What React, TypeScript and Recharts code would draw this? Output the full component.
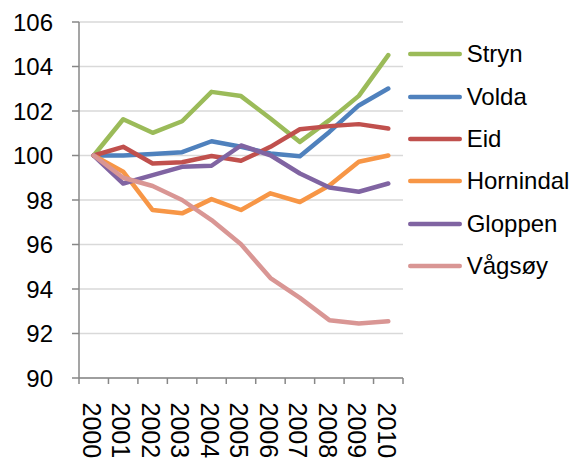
import React from 'react';
import { LineChart, Line, XAxis, YAxis, CartesianGrid } from 'recharts';

const years = ['2000', '2001', '2002', '2003', '2004', '2005', '2006', '2007', '2008', '2009', '2010'];
const stryn = [100, 101.63, 101.02, 101.54, 102.86, 102.67, 101.66, 100.61, 101.59, 102.68, 104.51];
const volda = [100, 100, 100.07, 100.15, 100.64, 100.39, 100.09, 99.97, 101.06, 102.25, 103.01];
const eid = [100, 100.39, 99.64, 99.7, 99.98, 99.76, 100.39, 101.18, 101.32, 101.41, 101.21];
const hornindal = [100, 99.27, 97.55, 97.4, 98.04, 97.55, 98.3, 97.91, 98.65, 99.72, 100.0];
const gloppen = [100, 98.74, 99.12, 99.49, 99.54, 100.45, 100.01, 99.19, 98.56, 98.37, 98.74];
const vagsoy = [100, 99.0, 98.63, 98.0, 97.1, 96.01, 94.49, 93.6, 92.6, 92.45, 92.55];

const yTicks = [90, 92, 94, 96, 98, 100, 102, 104, 106];

const series = [
  { key: 'Stryn', values: stryn, color: '#9BBB59' },
  { key: 'Volda', values: volda, color: '#4F81BD' },
  { key: 'Eid', values: eid, color: '#C0504D' },
  { key: 'Hornindal', values: hornindal, color: '#F79646' },
  { key: 'Gloppen', values: gloppen, color: '#8064A2' },
  { key: 'Vågsøy', values: vagsoy, color: '#D99694' },
];

const data = years.map((y, i) => {
  const row: Record<string, number | string> = { idx: i, year: y };
  series.forEach((s) => {
    row[s.key] = s.values[i];
  });
  return row;
});

const xTicks: number[] = [];
for (let i = 0; i <= years.length * 2; i++) xTicks.push(-0.5 + i * 0.5);

const FONT = '"Liberation Sans", Arial, sans-serif';
const AXIS = '#878787';

const XTick = (props: any) => {
  const { x, y, payload } = props;
  const v = payload.value as number;
  if (Number.isInteger(v)) {
    return (
      <g transform={`translate(${x},${y + 24.5})`}>
        <text
          transform="rotate(90)"
          x={0}
          y={2}
          dy="0.35em"
          textAnchor="start"
          fontSize={25}
          fill="#000"
          fontFamily={FONT}
        >
          {years[v]}
        </text>
      </g>
    );
  }
  return <line x1={x} x2={x} y1={y} y2={y + 6} stroke={AXIS} strokeWidth={1.5} />;
};

export default function App() {
  return (
    <div style={{ position: 'absolute', left: 0, top: 0, width: 571, height: 460, background: '#fff', fontFamily: FONT }}>
      <LineChart width={571} height={460} data={data} margin={{ top: 22, right: 168, bottom: 0, left: 0 }}>
        <CartesianGrid vertical={false} stroke="#d9d9d9" strokeWidth={1.5} />
        <XAxis
          dataKey="idx"
          type="number"
          domain={[-0.5, 10.5]}
          ticks={xTicks}
          interval={0}
          tickLine={false}
          tickSize={0}
          tickMargin={0}
          height={82}
          axisLine={{ stroke: AXIS, strokeWidth: 1.5 }}
          tick={<XTick />}
          allowDecimals
        />
        <YAxis
          type="number"
          domain={[90, 106]}
          ticks={yTicks}
          interval={0}
          width={79}
          tickSize={7}
          tickMargin={19}
          axisLine={{ stroke: AXIS, strokeWidth: 1.5 }}
          tickLine={{ stroke: AXIS, strokeWidth: 1.5 }}
          tick={{ fontSize: 24, fill: '#000', fontFamily: FONT }}
        />
        {series.map((s) => (
          <Line
            key={s.key}
            dataKey={s.key}
            stroke={s.color}
            strokeWidth={4.5}
            strokeLinecap="round"
            strokeLinejoin="round"
            dot={false}
            activeDot={false}
            isAnimationActive={false}
          />
        ))}
      </LineChart>
      <div style={{ position: 'absolute', left: 405, top: 33, width: 166 }}>
        {series.map((s) => (
          <div key={s.key} style={{ height: 42.4, display: 'flex', alignItems: 'center' }}>
            <svg width={58} height={10} style={{ flex: 'none' }}>
              <line x1={5.25} x2={54.75} y1={5} y2={5} stroke={s.color} strokeWidth={4.5} strokeLinecap="round" />
            </svg>
            <span style={{ marginLeft: 3.7, fontSize: 24, color: '#000', whiteSpace: 'nowrap', fontFamily: FONT }}>{s.key}</span>
          </div>
        ))}
      </div>
    </div>
  );
}
